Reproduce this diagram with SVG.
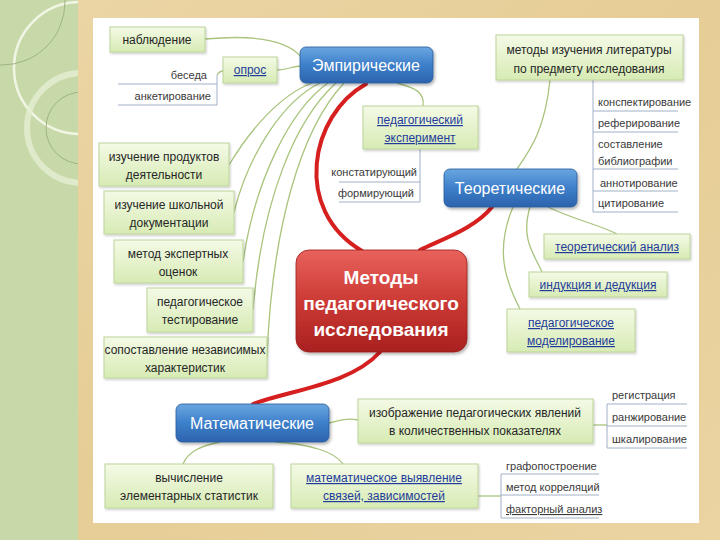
<svg xmlns="http://www.w3.org/2000/svg" width="720" height="540" viewBox="0 0 720 540">
<defs>
<linearGradient id="gGreen" x1="0" y1="0" x2="0" y2="1"><stop offset="0" stop-color="#f4fae6"/><stop offset="1" stop-color="#d7ebb4"/></linearGradient>
<linearGradient id="gBlue" x1="0" y1="0" x2="0" y2="1"><stop offset="0" stop-color="#6aa6e0"/><stop offset="0.5" stop-color="#3d7fca"/><stop offset="1" stop-color="#2c63ad"/></linearGradient>
<linearGradient id="gRed" x1="0" y1="0" x2="0" y2="1"><stop offset="0" stop-color="#e8625c"/><stop offset="0.5" stop-color="#cc3a35"/><stop offset="1" stop-color="#a9201f"/></linearGradient>
<linearGradient id="gTan" x1="0" y1="0" x2="1" y2="1"><stop offset="0" stop-color="#ecd6a6"/><stop offset="0.5" stop-color="#e6cd96"/><stop offset="1" stop-color="#ebd4a2"/></linearGradient>
<clipPath id="leftClip"><rect x="0" y="0" width="78" height="540"/></clipPath>
<filter id="sh" x="-10%" y="-10%" width="125%" height="135%"><feDropShadow dx="1.5" dy="2" stdDeviation="1.5" flood-color="#000" flood-opacity="0.3"/></filter>
<filter id="shs" x="-10%" y="-10%" width="125%" height="140%"><feDropShadow dx="1" dy="1.5" stdDeviation="1" flood-color="#000" flood-opacity="0.2"/></filter>
</defs>
<style>
.gb{fill:url(#gGreen);stroke:#bcd49a;stroke-width:1;filter:url(#shs)}
.bb{fill:url(#gBlue);stroke:#2a5a9a;stroke-width:0.8;filter:url(#sh)}
.rb{fill:url(#gRed);stroke:#9a1e1e;stroke-width:0.8;filter:url(#sh)}
.t{font-family:"Liberation Sans","Noto Sans",sans-serif;font-size:12px;fill:#262626;text-anchor:middle}
.lk{fill:#1f3b9c;text-decoration:underline}
.s{font-family:"Liberation Sans","Noto Sans",sans-serif;font-size:11px;fill:#3a3a3a}
.r{text-anchor:end}
.bt{font-family:"Liberation Sans","Noto Sans",sans-serif;font-size:16px;fill:#ffffff;text-anchor:middle}
.ct{font-family:"Liberation Sans","Noto Sans",sans-serif;font-size:19px;font-weight:bold;fill:#ffffff;text-anchor:middle}
.c{fill:none;stroke:#a9c47c;stroke-width:1.3}
.red{fill:none;stroke:#d61f1f;stroke-width:4;stroke-linecap:round}
.br{fill:none;stroke:#9fb0c6;stroke-width:1}
</style>
<!-- background -->
<rect x="0" y="0" width="720" height="540" fill="url(#gTan)"/>
<rect x="0" y="0" width="78" height="540" fill="#c8d9a9"/>
<g fill="none" clip-path="url(#leftClip)">
<circle cx="80" cy="68" r="66" stroke="#f1f6e4" stroke-width="2.5"/>
<circle cx="2" cy="2" r="63" stroke="#9fb382" stroke-width="1"/>
<circle cx="82" cy="128" r="55" stroke="#e4edd2" stroke-width="6" opacity="0.8"/>
<circle cx="82" cy="128" r="36" stroke="#9fb382" stroke-width="1"/>
</g>
<rect x="93" y="18" width="606" height="505" fill="#ffffff"/>

<g id="connectors">
<path class="c" d="M205,39 C260,34 290,42 302,58"/>
<path class="c" d="M277,70 C288,70 291,66 302,66"/>
<path class="c" d="M229,165 C250,130 280,95 312,83"/>
<path class="c" d="M234,212 C250,150 285,100 320,83"/>
<path class="c" d="M243,262 C255,180 290,110 328,83"/>
<path class="c" d="M253,310 C262,200 295,120 336,83"/>
<path class="c" d="M267,357 C272,230 300,130 344,83"/>
<path class="c" d="M397,83 C415,88 425,92 423,106"/>
<path class="c" d="M550,80 C545,130 530,150 517,169"/>
<path class="c" d="M548,207 C575,220 600,225 617,234"/>
<path class="c" d="M530,207 C520,240 535,255 542,272"/>
<path class="c" d="M513,207 C495,250 505,280 520,309"/>
<path class="c" d="M329,423 C340,420 348,418 358,420"/>
<path class="c" d="M220,442 C200,446 188,452 183,464"/>
<path class="c" d="M275,442 C310,444 335,452 343,464"/>
<path class="c" d="M217,75 C219,72 221,71 223,71"/>
<path class="c" d="M593,425 L607,425"/>
<path class="c" d="M478,496 L501,496"/>
<path class="red" d="M366,84 C310,115 292,210 362,251"/>
<path class="red" d="M420,250 C445,238 475,228 492,207"/>
<path class="red" d="M380,352 C350,385 290,390 253,404"/>
<!-- bracket lines -->
<path class="br" d="M217,75 V105 M118,84 H217 M118,105 H217"/>
<path class="br" d="M420,149 V202 M339,182 H420 M339,202 H420"/>
<path class="br" d="M593,80 V212 M593,111 H678 M593,132 H678 M593,169 H678 M593,191 H678 M593,212 H678"/>
<path class="br" d="M607,404 V448 M607,404 H687 M607,426 H687 M607,448 H687"/>
<path class="br" d="M501,474 V518 M501,474 H599 M501,495 H599 M501,518 H599"/>
</g>

<g id="center"><rect class="rb" x="296" y="250" width="171" height="102" rx="13"/>
<text class="ct" x="381" y="284">Методы</text><text class="ct" x="381" y="310">педагогического</text><text class="ct" x="381" y="336">исследования</text></g>

<g id="empir"><rect class="bb" x="300" y="47" width="133" height="36" rx="6"/><text class="bt" x="366" y="71">Эмпирические</text></g>
<g id="theor"><rect class="bb" x="444" y="169" width="133" height="38" rx="6"/><text class="bt" x="510" y="194">Теоретические</text></g>
<g id="math"><rect class="bb" x="176" y="404" width="153" height="38" rx="6"/><text class="bt" x="252" y="429">Математические</text></g>

<g id="nabl"><rect class="gb" x="110" y="27" width="95" height="25"/><text class="t" x="157" y="44">наблюдение</text></g>
<g id="opros"><rect class="gb" x="223" y="57" width="54" height="26"/><text class="t lk" x="250" y="74">опрос</text></g>
<g id="opros-items"><text class="s r" x="207" y="79">беседа</text><text class="s r" x="211" y="100">анкетирование</text></g>
<g id="pedexp"><rect class="gb" x="363" y="106" width="115" height="43"/><text class="t lk" x="420" y="124">педагогический</text><text class="t lk" x="420" y="142">эксперимент</text></g>
<g id="pedexp-items"><text class="s r" x="417" y="176">констатирующий</text><text class="s r" x="414" y="197">формирующий</text></g>
<g id="prod"><rect class="gb" x="99" y="143" width="130" height="43"/><text class="t" x="164" y="161">изучение продуктов</text><text class="t" x="164" y="179">деятельности</text></g>
<g id="doc"><rect class="gb" x="104" y="191" width="130" height="43"/><text class="t" x="169" y="209">изучение школьной</text><text class="t" x="169" y="227">документации</text></g>
<g id="expert"><rect class="gb" x="114" y="240" width="129" height="43"/><text class="t" x="178" y="258">метод экспертных</text><text class="t" x="178" y="276">оценок</text></g>
<g id="test"><rect class="gb" x="147" y="288" width="106" height="44"/><text class="t" x="200" y="306">педагогическое</text><text class="t" x="200" y="324">тестирование</text></g>
<g id="sopost"><rect class="gb" x="104" y="337" width="163" height="41"/><text class="t" x="185" y="354">сопоставление независимых</text><text class="t" x="185" y="372">характеристик</text></g>

<g id="lit"><rect class="gb" x="496" y="35" width="187" height="45"/><text class="t" x="589" y="54">методы изучения литературы</text><text class="t" x="589" y="73">по предмету исследования</text></g>
<g id="lit-items"><text class="s" x="598" y="106">конспектирование</text><text class="s" x="598" y="127">реферирование</text><text class="s" x="598" y="148">составление</text><text class="s" x="598" y="165">библиографии</text><text class="s" x="600" y="187">аннотирование</text><text class="s" x="598" y="207">цитирование</text></g>
<g id="tanaliz"><rect class="gb" x="544" y="234" width="146" height="25"/><text class="t lk" x="617" y="251">теоретический анализ</text></g>
<g id="induk"><rect class="gb" x="529" y="272" width="138" height="25"/><text class="t lk" x="598" y="289">индукция и дедукция</text></g>
<g id="model"><rect class="gb" x="507" y="309" width="128" height="43"/><text class="t lk" x="571" y="327">педагогическое</text><text class="t lk" x="571" y="345">моделирование</text></g>

<g id="izobr"><rect class="gb" x="358" y="399" width="235" height="44"/><text class="t" x="475" y="417">изображение педагогических явлений</text><text class="t" x="475" y="435">в количественных показателях</text></g>
<g id="izobr-items"><text class="s" x="612" y="399">регистрация</text><text class="s" x="612" y="421">ранжирование</text><text class="s" x="612" y="443">шкалирование</text></g>
<g id="vych"><rect class="gb" x="105" y="464" width="168" height="44"/><text class="t" x="189" y="482">вычисление</text><text class="t" x="189" y="500">элементарных статистик</text></g>
<g id="vyyav"><rect class="gb" x="291" y="464" width="187" height="44"/><text class="t lk" x="384" y="482">математическое выявление</text><text class="t lk" x="384" y="500">связей, зависимостей</text></g>
<g id="vyyav-items"><text class="s" x="506" y="470">графопостроение</text><text class="s" x="506" y="491">метод корреляций</text><text class="s lk" x="506" y="513" style="text-anchor:start">факторный анализ</text></g>
</svg>
